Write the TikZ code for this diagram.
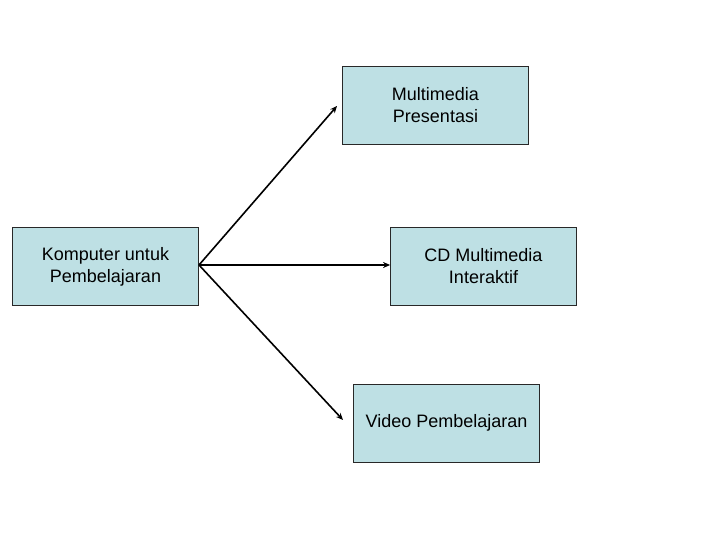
\documentclass[tikz,border=0pt]{standalone}
\usepackage{fontspec}
\setmainfont{Liberation Sans}
\usetikzlibrary{arrows.meta}
\definecolor{boxfill}{RGB}{190,224,228}
\definecolor{boxline}{RGB}{40,40,40}
\begin{document}
\begin{tikzpicture}[x=1pt,y=-1pt,
  box/.style={draw=boxline,fill=boxfill,line width=0.8pt,minimum width=186pt,minimum height=78pt,align=center,inner sep=0pt,font=\fontsize{18}{22}\selectfont},
  conn/.style={line width=1.6pt,-{Stealth[length=7pt,width=6pt]}}]
\useasboundingbox (0,0) rectangle (720,540);
\node[box] (komp) at (105.5,266.5) {Komputer untuk\\Pembelajaran};
\node[box] (multi) at (435.5,105) {Multimedia\\Presentasi};
\node[box] (cd) at (483.5,266) {CD Multimedia\\Interaktif};
\node[box] (video) at (446.5,423) {Video Pembelajaran};
\coordinate (src) at (199,265);
\coordinate (e1) at (337,106);
\coordinate (e2) at (343,420);
\draw[conn] (src) -- (e1);
\draw[conn] (src) -- (cd.west |- src);
\draw[conn] (src) -- (e2);
\end{tikzpicture}
\end{document}
